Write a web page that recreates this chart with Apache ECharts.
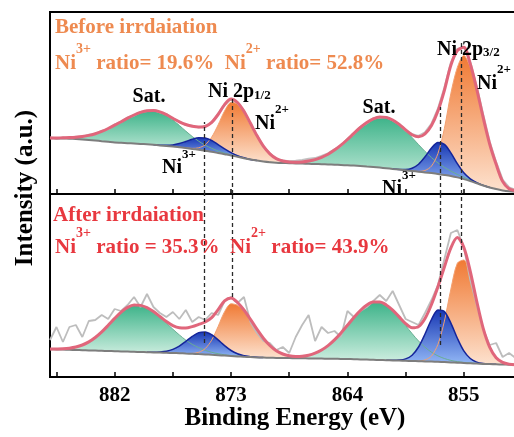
<!DOCTYPE html>
<html>
<head>
<meta charset="utf-8">
<script src="https://cdn.jsdelivr.net/npm/echarts@6/dist/echarts.min.js"></script>
<style>html,body{margin:0;padding:0;background:#fff;overflow:hidden;width:514px;height:437px}#c{width:522px;height:437px}</style>
</head>
<body>
<div id="c"></div>
<script>
// ---------------- data (binding energy in eV, intensity in a.u.) ----------------
const energy = [
  887, 886.5, 886, 885.5, 885, 884.5, 884, 883.5, 883, 882.5,
  882, 881.5, 881, 880.5, 880, 879.5, 879, 878.5, 878, 877.5,
  877, 876.5, 876, 875.5, 875, 874.5, 874, 873.5, 873, 872.5,
  872, 871.5, 871, 870.5, 870, 869.5, 869, 868.5, 868, 867.5,
  867, 866.5, 866, 865.5, 865, 864.5, 864, 863.5, 863, 862.5,
  862, 861.5, 861, 860.5, 860, 859.5, 859, 858.5, 858, 857.5,
  857, 856.5, 856, 855.5, 855, 854.5, 854, 853.5, 853, 852.5,
  852, 851.5, 851, 850.5
];
const tickLabels = [882, 873, 864, 855];

// Before irradiation
const bgTop = [
  55.7, 55.6, 55.5, 55.3, 55.0, 54.6, 54.1, 53.5, 52.8, 52.2,
  51.6, 51.2, 50.8, 50.5, 50.1, 49.7, 49.2, 48.6, 48.0, 47.4,
  46.8, 46.0, 45.1, 44.2, 43.2, 42.2, 41.0, 39.8, 38.6, 37.2,
  35.8, 34.5, 33.4, 32.5, 31.8, 31.3, 31.0, 30.8, 30.6, 30.4,
  30.2, 30.0, 29.8, 29.6, 29.3, 29.0, 28.7, 28.4, 28.0, 27.5,
  27.0, 26.4, 25.8, 25.1, 24.4, 23.7, 23.0, 22.3, 21.6, 20.9,
  20.1, 19.1, 18.0, 16.6, 14.9, 12.9, 10.7, 8.5, 6.5, 4.9,
  3.6, 2.7, 2.2, 2.0
];
const fitTop = [
  56.0, 56.0, 56.2, 56.4, 56.8, 57.5, 58.6, 60.3, 62.6, 65.5,
  68.8, 72.3, 75.8, 79.0, 81.6, 83.3, 83.5, 82.1, 79.3, 75.7,
  72.2, 69.5, 67.7, 66.9, 67.5, 71.6, 79.5, 89.4, 94.9, 91.5,
  82.7, 70.7, 58.4, 47.8, 40.2, 35.4, 33.0, 32.0, 31.7, 32.0,
  33.0, 34.4, 36.7, 39.8, 43.9, 48.8, 54.5, 60.6, 66.5, 71.5,
  75.2, 77.0, 76.6, 74.0, 69.6, 64.2, 59.3, 57.2, 60.1, 68.4,
  82.9, 103.7, 128.8, 143.3, 146.7, 130.0, 104.9, 76.3, 50.0, 29.7,
  12.6, 5.2, 3.2, 2.3
];
const rawTop = [
  56.5, 55.6, 56.4, 56.0, 57.2, 57.0, 59.1, 60.0, 63.0, 65.0,
  69.4, 72.0, 76.3, 78.6, 82.0, 83.0, 84.0, 81.8, 79.8, 75.2,
  72.6, 69.0, 68.2, 66.5, 68.0, 71.2, 80.0, 89.0, 95.3, 91.0,
  83.2, 70.2, 58.8, 47.4, 40.6, 35.0, 33.5, 32.6, 33.2, 34.0,
  35.2, 35.8, 38.0, 40.6, 44.5, 48.2, 55.0, 60.2, 67.0, 71.0,
  75.6, 76.6, 77.0, 73.6, 70.0, 63.6, 59.8, 58.0, 61.5, 70.0,
  85.0, 106.0, 131.0, 145.0, 147.0, 132.0, 107.0, 79.0, 52.0, 31.5,
  14.0, 6.5, 4.0, 3.0
];
// fitted components (height above background), each listed from its first energy
const satTop1 = [0.3, 0.4, 0.7, 1.1, 1.8, 2.9, 4.5, 6.8, 9.8, 13.3, 17.2, 21.1, 25.0, 28.5, 31.5, 33.6, 34.3, 33.3, 30.6, 26.6, 21.8, 16.9, 12.4, 8.6, 5.6, 3.5, 2.0, 1.1, 0.5, 0.2, 0];
const ni3Top1 = [0, 0.2, 0.7, 1.7, 3.6, 6.5, 9.7, 12.1, 12.7, 11.3, 8.4, 5.3, 2.8, 1.2, 0.5, 0.1, 0];
const ni2Top1 = [0, 0.1, 0.5, 2.0, 6.0, 14.6, 28.1, 43.2, 53.0, 52.9, 46.4, 36.1, 25.0, 15.3, 8.4, 4.0, 1.7, 0.7, 0.2, 0];
const satTop2 = [0, 0.1, 0.3, 0.5, 0.9, 1.6, 2.8, 4.4, 6.9, 10.2, 14.6, 19.8, 25.8, 32.2, 38.5, 44.0, 48.2, 50.6, 50.8, 48.9, 45.0, 39.7, 33.5, 27.1, 21.0, 15.5, 11.0, 7.5, 4.9, 3.0, 1.8, 1.0, 0.6, 0.3, 0.1, 0];
const ni3Top2 = [0, 0.2, 0.8, 2.8, 7.5, 15.6, 25.0, 31.4, 30.6, 23.2, 13.7, 6.3, 2.3, 0.6, 0.1, 0];
const ni2Top2 = [0, 0.3, 1.9, 7.0, 20.4, 46.5, 82.7, 110, 123.7, 113.8, 93.0, 67.4, 43.4, 24.8, 9.0, 2.5, 1.0, 0.3];
const startTop = {sat1: 887, ni3a: 879, ni2a: 877, sat2: 870, ni3b: 860.5, ni2b: 859};

// After irradiation
const bgBot = [
  27.7, 27.6, 27.4, 27.2, 27.0, 26.8, 26.6, 26.4, 26.2, 26.0,
  25.8, 25.6, 25.4, 25.2, 25.0, 24.8, 24.6, 24.4, 24.2, 24.0,
  23.8, 23.5, 23.2, 22.9, 22.6, 22.2, 21.8, 21.4, 21.0, 20.6,
  20.2, 19.9, 19.6, 19.4, 19.2, 19.1, 19.0, 18.9, 18.8, 18.7,
  18.6, 18.5, 18.4, 18.3, 18.2, 18.1, 18.0, 17.8, 17.6, 17.4,
  17.2, 17.0, 16.8, 16.6, 16.4, 16.2, 16.0, 15.8, 15.6, 15.4,
  15.2, 14.9, 14.6, 14.3, 14.0, 13.7, 13.4, 13.1, 12.9, 12.7,
  12.5, 12.3, 12.1, 12.0
];
const fitBot = [
  27.9, 28.0, 28.2, 28.8, 30.0, 32.0, 35.1, 39.5, 45.1, 51.7,
  58.6, 64.9, 69.6, 72.0, 71.6, 69.3, 65.4, 60.5, 55.4, 51.4,
  49.2, 49.0, 50.4, 52.6, 55.0, 59.4, 67.3, 76.1, 79.1, 74.5,
  67.0, 57.7, 47.8, 38.8, 31.5, 26.2, 23.0, 21.2, 20.6, 20.8,
  21.8, 23.9, 27.0, 31.4, 37.1, 44.0, 51.7, 59.5, 66.5, 71.9,
  74.9, 75.0, 72.1, 66.9, 60.1, 53.4, 49.2, 50.4, 58.5, 72.5,
  90.2, 110.0, 129.2, 139.4, 129.7, 105.7, 75.7, 48.6, 29.8, 19.3,
  14.7, 12.9, 12.2, 12.0
];
const rawBot = [
  37, 50, 35, 50, 52, 40, 56, 57, 62, 58,
  68, 66, 72, 80, 70, 83, 70, 64, 60, 65,
  58, 67, 55, 60, 57, 64, 62, 76, 80, 74,
  80, 55, 44, 36, 34, 27, 30, 24, 40, 52,
  62, 36, 50, 44, 46, 40, 66, 60, 66, 70,
  76, 82, 76, 86, 72, 58, 55, 52, 64, 77,
  92, 118, 144, 147, 130, 97, 72, 48, 32, 34,
  20, 24, 19, 18
];
const satBot1 = [0.2, 0.4, 0.8, 1.6, 3.0, 5.2, 8.5, 13.1, 18.9, 25.7, 32.8, 39.3, 44.2, 46.8, 46.6, 44.5, 40.6, 35.5, 29.7, 23.8, 18.3, 13.4, 9.4, 6.4, 4.1, 2.5, 1.5, 0.8, 0.4, 0.2, 0];
const ni3Bot1 = [0, 0.2, 0.6, 1.5, 3.6, 7.1, 12.1, 17.4, 21.5, 22.5, 20.1, 15.3, 10.0, 5.5, 2.6, 1.0, 0.4, 0.1, 0];
const ni2Bot1 = [0, 0.4, 1.8, 5.8, 14.6, 28.7, 43.9, 52.2, 51.1, 45.6, 37.4, 28.1, 19.4, 12.3, 7.1, 3.8, 1.8, 0.8, 0.3, 0];
const satBot2 = [0, 0.2, 0.5, 1.0, 1.8, 3.2, 5.4, 8.6, 13.1, 18.9, 25.9, 33.7, 41.7, 48.9, 54.5, 57.7, 58.0, 55.3, 50.2, 43.2, 35.3, 27.4, 20.2, 14.1, 9.4, 5.9, 3.6, 2.0, 1.1, 0.6, 0.3, 0.1, 0];
const ni3Bot2 = [0, 0.1, 0.5, 1.9, 5.8, 14.2, 27.4, 42.1, 51.7, 50.5, 39.3, 24.5, 12.1, 4.8, 1.5, 0.4, 0.1, 0];
const ni2Bot2 = [0, 0.2, 1.4, 5.6, 17.4, 41.0, 73.3, 99.5, 103.0, 86.9, 60.7, 35.1, 16.8, 6.6, 2.2, 0.6, 0.1, 0];
const startBot = {sat1: 887, ni3a: 879.5, ni2a: 876.5, sat2: 869.5, ni3b: 861, ni2b: 859};

// peak-position guide lines
const dashE = [875.1, 872.9, 856.8, 855.2];
const dashTopFrom = [72, 96, 87, 152];
const dashBotTo = [34, 80, 32, 120];

// ---------------- build ----------------
const F = "'Liberation Serif','Times New Roman',serif";
function seg(startE, vals) {
  const out = energy.map(() => null);
  const i0 = energy.indexOf(startE);
  vals.forEach((v, k) => { out[i0 + k] = v; });
  return out;
}
const grad = (c1, c2) => new echarts.graphic.LinearGradient(0, 0, 0, 1, [{offset: 0, color: c1}, {offset: 1, color: c2}]);
const GREEN = () => grad('#3db389', '#d3f0e3');
const ORANGE = () => grad('#f07a34', '#fde2cf');
const BLUE = () => grad('#1838b4', '#93b8f6');
const SM = 0.3;

function comp(id, g, base, h, fill, edge, edgeW) {
  const st = 'st_' + id;
  return [
    {type: 'line', xAxisIndex: g, yAxisIndex: g, stack: st, data: base.slice(), symbol: 'none', smooth: SM,
     lineStyle: {opacity: 0, width: 0}, silent: true},
    {type: 'line', xAxisIndex: g, yAxisIndex: g, stack: st, data: h, symbol: 'none', smooth: SM,
     lineStyle: {color: edge, width: edgeW}, areaStyle: {color: fill, opacity: 1}, silent: true}
  ];
}
function plainLine(g, arr, color, width, smooth) {
  return {type: 'line', xAxisIndex: g, yAxisIndex: g, data: arr, symbol: 'none',
    smooth: smooth, lineStyle: {color: color, width: width}, silent: true};
}
const dashStyle = {color: '#2a2a2a', type: [4, 3], width: 1.3};
function guideSeries(xIdx, yIdx, pairs) {
  return {type: 'line', xAxisIndex: xIdx, yAxisIndex: yIdx, data: [], symbol: 'none', silent: true,
    markLine: {silent: true, symbol: ['none', 'none'], label: {show: false}, lineStyle: dashStyle, data: pairs}};
}

const series = [
  plainLine(0, rawTop, '#c2c2c2', 2.2, false),
  plainLine(1, rawBot, '#bdbdbd', 1.8, false),
  ...comp('gt1', 0, bgTop, seg(startTop.sat1, satTop1), GREEN(), '#6aae93', 1),
  ...comp('gt2', 0, bgTop, seg(startTop.sat2, satTop2), GREEN(), '#6aae93', 1),
  ...comp('ot1', 0, bgTop, seg(startTop.ni2a, ni2Top1), ORANGE(), '#f3a070', 1),
  ...comp('ot2', 0, bgTop, seg(startTop.ni2b, ni2Top2), ORANGE(), '#f3a070', 1),
  ...comp('bt1', 0, bgTop, seg(startTop.ni3a, ni3Top1), BLUE(), '#15259a', 1.5),
  ...comp('bt2', 0, bgTop, seg(startTop.ni3b, ni3Top2), BLUE(), '#15259a', 1.5),
  ...comp('gb1', 1, bgBot, seg(startBot.sat1, satBot1), GREEN(), '#6aae93', 1),
  ...comp('gb2', 1, bgBot, seg(startBot.sat2, satBot2), GREEN(), '#6aae93', 1),
  ...comp('ob1', 1, bgBot, seg(startBot.ni2a, ni2Bot1), ORANGE(), '#f3a070', 1),
  ...comp('ob2', 1, bgBot, seg(startBot.ni2b, ni2Bot2), ORANGE(), '#f3a070', 1),
  ...comp('bb1', 1, bgBot, seg(startBot.ni3a, ni3Bot1), BLUE(), '#15259a', 1.5),
  ...comp('bb2', 1, bgBot, seg(startBot.ni3b, ni3Bot2), BLUE(), '#15259a', 1.5),
  plainLine(0, bgTop, '#7d7d7d', 2, SM),
  plainLine(1, bgBot, '#7d7d7d', 2, SM),
  plainLine(0, fitTop, '#e0667b', 3, SM),
  plainLine(1, fitBot, '#e0667b', 3, SM),
  guideSeries(2, 0, dashE.map((e, k) => [{coord: [e, 0]}, {coord: [e, dashTopFrom[k]]}])),
  guideSeries(3, 1, dashE.map((e, k) => [{coord: [e, dashBotTo[k]]}, {coord: [e, 183]}]))
];

const isTick = v => (Math.round(Number(v) * 2) % 9) === 0;
const isLabel = v => tickLabels.indexOf(Number(v)) >= 0;
function xAxisCfg(g, showLabels) {
  return {
    gridIndex: g, type: 'category', data: energy, boundaryGap: false,
    axisLine: {show: true, lineStyle: {color: '#000', width: 2}},
    axisTick: {show: true, inside: true, length: 5, interval: (i, v) => isTick(v), lineStyle: {color: '#000', width: 1.5}},
    splitLine: {show: false},
    axisLabel: {
      show: showLabels, margin: 8, color: '#000', fontFamily: F, fontWeight: 'bold', fontSize: 21,
      interval: (i, v) => isLabel(v), formatter: v => String(v)
    }
  };
}
function guideAxis(g) {
  return {gridIndex: g, type: 'value', inverse: true, min: 850.5, max: 887, show: false};
}
function yAxisCfg(g, max) {
  return {gridIndex: g, type: 'value', min: 0, max: max, show: false};
}

const TXT_OR = '#ee8a50', TXT_RED = '#e8383f';
function plain(x, y, text, size, color, align) {
  return {type: 'text', x: x, y: y, z: 100,
    style: {text: text, fill: color, font: 'bold ' + size + 'px ' + F, align: align || 'left', verticalAlign: 'middle'}};
}
function rich(x, capY, text, size, supSize, color) {
  const LH = Math.round(size * 1.5);
  const base = {fontFamily: F, fontWeight: 'bold', fill: color};
  return {type: 'text', x: x, y: capY - LH / 2 - 3, z: 100,
    style: {text: text, align: 'left', verticalAlign: 'top', rich: {
      n: Object.assign({fontSize: size, lineHeight: LH, verticalAlign: 'bottom'}, base),
      s: Object.assign({fontSize: supSize, lineHeight: supSize, verticalAlign: 'top'}, base),
      b: Object.assign({fontSize: supSize, lineHeight: Math.round(LH * 0.85), verticalAlign: 'bottom'}, base)
    }}};
}

const graphic = [
  plain(55, 27.5, 'Before irrdaiation', 21, TXT_OR),
  rich(55, 61, '{n|Ni}{s|3+}{n| ratio= 19.6%  Ni}{s|2+}{n| ratio= 52.8%}', 21, 14, TXT_OR),
  plain(53, 215.5, 'After irrdaiation', 21, TXT_RED),
  rich(55, 245, '{n|Ni}{s|3+}{n| ratio = 35.3%  Ni}{s|2+}{n| ratio= 43.9%}', 21, 14, TXT_RED),
  plain(149, 97, 'Sat.', 20, '#000', 'center'),
  rich(208, 90, '{n|Ni 2p}{b|1/2}', 20, 13, '#000'),
  rich(255, 121.5, '{n|Ni}{s|2+}', 20, 13, '#000'),
  rich(162, 166, '{n|Ni}{s|3+}', 20, 13, '#000'),
  plain(379, 108, 'Sat.', 20, '#000', 'center'),
  rich(437, 47.5, '{n|Ni 2p}{b|3/2}', 20, 13, '#000'),
  rich(477, 81.5, '{n|Ni}{s|2+}', 20, 13, '#000'),
  rich(382, 187, '{n|Ni}{s|3+}', 20, 13, '#000'),
  plain(295, 419, 'Binding Energy (eV)', 25, '#000', 'center'),
  {type: 'text', x: 26, y: 188, rotation: Math.PI / 2, z: 100,
   style: {text: 'Intensity (a.u.)', fill: '#000', font: 'bold 25px ' + F, align: 'center', verticalAlign: 'middle'}}
];

const chart = echarts.init(document.getElementById('c'), null, {renderer: 'canvas'});
chart.setOption({
  animation: false,
  backgroundColor: '#fff',
  grid: [
    {left: 50, right: 0, top: 12, height: 182, show: true, borderColor: '#000', borderWidth: 2, backgroundColor: 'transparent'},
    {left: 50, right: 0, top: 194, height: 183, show: true, borderColor: '#000', borderWidth: 2, backgroundColor: 'transparent'}
  ],
  xAxis: [xAxisCfg(0, false), xAxisCfg(1, true), guideAxis(0), guideAxis(1)],
  yAxis: [yAxisCfg(0, 182), yAxisCfg(1, 183)],
  series: series,
  graphic: graphic
});
</script>
</body>
</html>
